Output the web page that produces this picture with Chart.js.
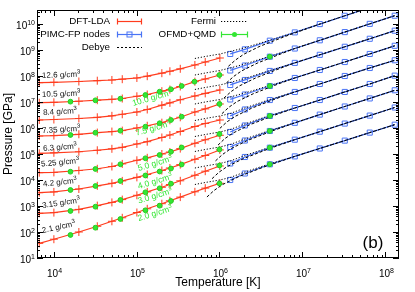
<!DOCTYPE html>
<html>
<head>
<meta charset="utf-8">
<script src="https://cdn.jsdelivr.net/npm/chart.js@4.4.0/dist/chart.umd.min.js"></script>
<style>
  html, body { margin: 0; padding: 0; background: #fff; }
</style>
</head>
<body>
<canvas id="myChart" width="415" height="292"></canvas>
<script>
// densities of the DFT / PIMC rows, top to bottom
const densities = ["12.6", "10.5", "8.4", "7.35", "6.3", "5.25", "4.2", "3.15", "2.1"];

// DFT-LDA
const dftT = [6736, 10104, 20209, 33682, 50523, 67364, 101045, 134727, 202091, 252613, 336818, 505227, 673636, 1010454];
const dftP = [
  [5.52e7, 5.73e7, 6.14e7, 6.59e7, 7.02e7, 7.53e7, 8.38e7, 9.82e7, 1.28e8, 1.52e8, 1.89e8, 2.65e8, 3.45e8, 4.92e8],
  [9.40e6, 9.73e6, 1.07e7, 1.17e7, 1.27e7, 1.36e7, 1.66e7, 1.94e7, 2.60e7, 3.00e7, 3.94e7, 6.04e7, 7.67e7, 1.09e8],
  [2.03e6, 2.12e6, 2.32e6, 2.58e6, 2.94e6, 3.37e6, 4.12e6, 5.15e6, 7.53e6, 9.23e6, 1.22e7, 1.70e7, 2.14e7, 2.90e7],
  [4.92e5, 5.11e5, 5.73e5, 6.65e5, 7.28e5, 7.94e5, 1.0e6, 1.22e6, 1.60e6, 1.98e6, 2.58e6, 4.12e6, 5.43e6, 8.38e6],
  [1.06e5, 1.11e5, 1.22e5, 1.39e5, 1.58e5, 1.81e5, 2.43e5, 2.97e5, 4.32e5, 5.38e5, 7.33e5, 1.14e6, 1.49e6, 2.03e6],
  [1.91e4, 1.96e4, 2.32e4, 2.70e4, 3.30e4, 4.16e4, 5.73e4, 7.14e4, 1.0e5, 1.19e5, 1.61e5, 2.58e5, 3.52e5, 5.24e5],
  [3.25e3, 3.48e3, 4.51e3, 5.98e3, 7.46e3, 9.23e3, 1.26e4, 1.63e4, 2.32e4, 2.90e4, 3.91e4, 6.25e4, 8.75e4, 1.43e5],
  [524, 557, 740, 1035, 1374, 1762, 2582, 3483, 5236, 6714, 9311, 1.52e4, 2.18e4, 3.45e4],
  [36.7, 52.8, 100, 166, 258, 352, 562, 780, 1225, 1585, 2198, 3516, 4875, 7464]
];

// PIMC-FP nodes
const pimcT = [1347271, 2020906, 4041813, 8083626, 16167252, 32334505, 64669010, 129338020];
const pimcP = [
  [7.02e8, 1.06e9, 2.28e9, 4.75e9, 9.91e9, 2.07e10, 4.31e10, 8.91e10],
  [1.63e8, 2.53e8, 5.52e8, 1.14e9, 2.36e9, 4.88e9, 1.01e10, 2.08e10],
  [4.51e7, 7.02e7, 1.56e8, 3.19e8, 6.53e8, 1.33e9, 2.70e9, 5.52e9],
  [1.25e7, 1.94e7, 4.12e7, 8.38e7, 1.70e8, 3.45e8, 7.02e8, 1.45e9],
  [2.90e6, 5.15e6, 1.19e7, 2.43e7, 4.92e7, 1.0e8, 2.03e8, 4.02e8],
  [7.02e5, 1.25e6, 2.90e6, 5.87e6, 1.19e7, 2.43e7, 4.92e7, 1.03e8],
  [1.86e5, 3.30e5, 7.67e5, 1.58e6, 3.27e6, 6.71e6, 1.37e7, 2.82e7],
  [4.32e4, 7.67e4, 1.75e5, 3.55e5, 7.21e5, 1.48e6, 3.0e6, 6.14e6],
  [1.0e4, 1.78e4, 4.02e4, 8.09e4, 1.63e5, 3.27e5, 6.65e5, 1.34e6]
];

// Fermi
const fermiT = [505227, 673636, 1010454, 1347271, 2020906, 4041813, 8083626, 16167252, 32334505, 64669010, 129338020];
const fermiP = [
  [4.71e8, 5.62e8, 7.02e8, 8.75e8, 1.22e9, 2.38e9, 4.75e9, 9.91e9, 2.07e10, 4.31e10, 8.91e10],
  [1.09e8, 1.30e8, 1.63e8, 2.03e8, 2.89e8, 5.77e8, 1.14e9, 2.36e9, 4.88e9, 1.01e10, 2.08e10],
  [3.03e7, 3.61e7, 4.51e7, 5.62e7, 8.02e7, 1.63e8, 3.19e8, 6.53e8, 1.33e9, 2.70e9, 5.52e9],
  [8.38e6, 1.0e7, 1.25e7, 1.56e7, 2.22e7, 4.31e7, 8.38e7, 1.70e8, 3.45e8, 7.02e8, 1.45e9],
  [1.94e6, 2.32e6, 2.90e6, 3.61e6, 5.87e6, 1.25e7, 2.43e7, 4.92e7, 1.0e8, 2.03e8, 4.02e8],
  [4.71e5, 5.62e5, 7.02e5, 8.75e5, 1.43e6, 3.03e6, 5.87e6, 1.19e7, 2.43e7, 4.92e7, 1.03e8],
  [1.25e5, 1.49e5, 1.86e5, 2.32e5, 3.78e5, 8.02e5, 1.58e6, 3.27e6, 6.71e6, 1.37e7, 2.82e7],
  [2.89e4, 3.45e4, 4.32e4, 5.38e4, 8.75e4, 1.82e5, 3.55e5, 7.21e5, 1.48e6, 3.0e6, 6.14e6],
  [6.71e3, 8.02e3, 1.0e4, 1.25e4, 2.03e4, 4.20e4, 8.09e4, 1.63e5, 3.27e5, 6.65e5, 1.34e6]
];

// Debye
const debyeT = [
  [1.28e6, 1.56e6, 1.95e6, 3.08e6, 6.07e6, 1.62e7, 3.23e7, 6.47e7, 1.29e8],
  [1.21e6, 1.48e6, 1.84e6, 2.91e6, 5.74e6, 8.08e6, 1.62e7, 3.23e7, 6.47e7, 1.29e8],
  [1.13e6, 1.38e6, 1.72e6, 2.72e6, 5.36e6, 8.08e6, 1.62e7, 3.23e7, 6.47e7, 1.29e8],
  [1.07e6, 1.30e6, 1.62e6, 2.57e6, 5.07e6, 8.08e6, 1.62e7, 3.23e7, 6.47e7, 1.29e8],
  [1.01e6, 1.23e6, 1.54e6, 2.43e6, 4.80e6, 8.08e6, 1.62e7, 3.23e7, 6.47e7, 1.29e8],
  [9.6e5, 1.16e6, 1.46e6, 2.30e6, 4.54e6, 8.08e6, 1.62e7, 3.23e7, 6.47e7, 1.29e8],
  [8.95e5, 1.09e6, 1.36e6, 2.14e6, 4.24e6, 8.08e6, 1.62e7, 3.23e7, 6.47e7, 1.29e8],
  [8.13e5, 9.87e5, 1.23e6, 1.95e6, 3.84e6, 8.08e6, 1.62e7, 3.23e7, 6.47e7, 1.29e8],
  [7.06e5, 8.59e5, 1.07e6, 1.69e6, 3.34e6, 8.08e6, 1.62e7, 3.23e7, 6.47e7, 1.29e8]
];
const debyeP = [
  [2.36e8, 4.12e8, 6.78e8, 1.40e9, 3.25e9, 9.91e9, 2.07e10, 4.31e10, 8.91e10],
  [5.38e7, 9.57e7, 1.56e8, 3.22e8, 7.46e8, 1.14e9, 2.36e9, 4.88e9, 1.01e10, 2.08e10],
  [1.41e7, 2.51e7, 4.09e7, 8.38e7, 1.96e8, 3.19e8, 6.53e8, 1.33e9, 2.70e9, 5.52e9],
  [3.55e6, 6.31e6, 1.03e7, 2.1e7, 4.88e7, 8.38e7, 1.70e8, 3.45e8, 7.02e8, 1.45e9],
  [9.66e5, 1.72e6, 2.79e6, 5.73e6, 1.34e7, 2.43e7, 4.92e7, 1.0e8, 2.03e8, 4.02e8],
  [2.2e5, 3.91e5, 6.42e5, 1.32e6, 3.05e6, 5.87e6, 1.19e7, 2.43e7, 4.92e7, 1.03e8],
  [5.43e4, 9.66e4, 1.57e5, 3.25e5, 7.53e5, 1.58e6, 3.27e6, 6.71e6, 1.37e7, 2.82e7],
  [1.12e4, 2.0e4, 3.25e4, 6.65e4, 1.54e5, 3.55e5, 7.21e5, 1.48e6, 3.0e6, 6.14e6],
  [2.22e3, 3.94e3, 6.49e3, 1.33e4, 3.08e4, 8.09e4, 1.63e5, 3.27e5, 6.65e5, 1.34e6]
];

// OFMD+QMD
const ofmdDensities = ["10.0", "7.5", "5.0", "4.0", "3.0", "2.0"];
const ofmdT = [16000, 32000, 64000, 128000, 190000, 260000, 350000, 500000, 1000000, 4040000];
const ofmdP = [
  [1.03e7, 1.16e7, 1.34e7, 1.86e7, 2.49e7, 3.08e7, 4.12e7, 6.04e7, 1.09e8, 5.52e8],
  [5.38e5, 6.59e5, 7.87e5, 1.12e6, 1.52e6, 2.03e6, 2.72e6, null, 8.38e6, 4.12e7],
  [2.08e4, 2.65e4, 4.02e4, 6.84e4, 9.15e4, 1.22e5, 1.78e5, null, 5.87e5, 2.90e6],
  [4.12e3, 5.87e3, 9.15e3, 1.49e4, 2.12e4, 2.77e4, 3.94e4, null, 1.49e5, 7.67e5],
  [643, 940, 1702, 3365, 4797, 7211, null, null, 3.61e4, 1.75e5],
  [76.7, 146, 316, 684, 1028, 1556, null, null, 7328, 4.02e4]
];

const xTicks = [1e4, 1e5, 1e6, 1e7, 1e8];
const yTicks = [1e1, 1e2, 1e3, 1e4, 1e5, 1e6, 1e7, 1e8, 1e9, 1e10];

const RED = "#ff3c1e";
const BLUE = "#4a74f5";
const GREEN = "#33e633";
const FONT = "'Liberation Sans', Arial, sans-serif";

// label placement (x, middle y, angle)
const densLabelPos = [[42, 75, -2], [42, 94, -2], [43, 112, -3], [42, 130, -3], [43, 148, -4], [41, 163.5, -5], [43, 183.5, -6], [42, 205, -8], [42, 230, -12]];
const ofmdLabelPos = [[152, 97.5, -16], [153, 128, -16], [155, 163, -17], [155, 181, -17], [155, 195.5, -17], [155, 213, -17]];

function pts(ts, ps) {
  const out = [];
  for (let i = 0; i < ts.length; i++) {
    if (ps[i] !== null) out.push({ x: ts[i], y: ps[i] });
  }
  return out;
}

const datasets = [];
densities.forEach(function (d, i) {
  datasets.push({
    label: "DFT " + d, data: pts(dftT, dftP[i]), order: 6,
    borderColor: RED, borderWidth: 1.2, pointStyle: "cross", pointRadius: 4,
    pointBorderColor: RED, pointBorderWidth: 1
  });
  datasets.push({
    label: "PIMC " + d, data: pts(pimcT, pimcP[i]), order: 5,
    borderColor: BLUE, borderWidth: 1.3, pointStyle: "rect", pointRadius: 3.6,
    pointBorderColor: BLUE, pointBackgroundColor: "rgba(0,0,0,0)", pointBorderWidth: 1
  });
  datasets.push({
    label: "Fermi " + d, data: pts(fermiT, fermiP[i]), order: 3,
    borderColor: "#000", borderWidth: 1, borderDash: [1.2, 1.8], pointRadius: 0
  });
  datasets.push({
    label: "Debye " + d, data: pts(debyeT[i], debyeP[i]), order: 4,
    borderColor: "#000", borderWidth: 1, borderDash: [3, 2], pointRadius: 0
  });
});
ofmdDensities.forEach(function (d, i) {
  datasets.push({
    label: "OFMD " + d, data: pts(ofmdT, ofmdP[i]), order: 1, showLine: false,
    pointStyle: "circle", pointRadius: 2.4, pointBackgroundColor: GREEN, pointBorderColor: "#20d020", pointBorderWidth: 1
  });
});

function supText(ctx, base, exp, x, y, align, baseSize, expSize, color) {
  ctx.fillStyle = color || "#000";
  ctx.textBaseline = "alphabetic";
  ctx.textAlign = "left";
  ctx.font = baseSize + "px " + FONT;
  const wb = ctx.measureText(base).width;
  ctx.font = expSize + "px " + FONT;
  const we = ctx.measureText(exp).width;
  let x0 = x;
  if (align === "right") x0 = x - wb - we;
  if (align === "center") x0 = x - (wb + we) / 2;
  ctx.font = baseSize + "px " + FONT;
  ctx.fillText(base, x0, y);
  ctx.font = expSize + "px " + FONT;
  ctx.fillText(exp, x0 + wb, y - baseSize * 0.42);
}

const decor = {
  id: "decor",
  afterDraw(chart) {
    const ctx = chart.ctx;
    const a = chart.chartArea;
    const xs = chart.scales.x, ys = chart.scales.y;
    ctx.save();
    ctx.strokeStyle = "#000";
    ctx.lineWidth = 1;
    ctx.strokeRect(a.left + 0.5, a.top + 0.5, a.right - a.left - 1, a.bottom - a.top - 1);

    // ticks (inward, mirrored)
    ctx.beginPath();
    for (let e = 3; e <= 8; e++) {
      for (let m = 1; m <= 9; m++) {
        const v = m * Math.pow(10, e);
        if (v < xs.min || v > xs.max) continue;
        const px = Math.round(xs.getPixelForValue(v)) + 0.5;
        const len = m === 1 ? 6 : 3;
        ctx.moveTo(px, a.bottom); ctx.lineTo(px, a.bottom - len);
        ctx.moveTo(px, a.top); ctx.lineTo(px, a.top + len);
      }
    }
    for (let e = 1; e <= 10; e++) {
      for (let m = 1; m <= 9; m++) {
        const v = m * Math.pow(10, e);
        if (v < ys.min || v > ys.max) continue;
        const py = Math.round(ys.getPixelForValue(v)) + 0.5;
        const len = m === 1 ? 6 : 3;
        ctx.moveTo(a.left, py); ctx.lineTo(a.left + len, py);
        ctx.moveTo(a.right, py); ctx.lineTo(a.right - len, py);
      }
    }
    ctx.stroke();

    // tick labels
    xTicks.forEach(function (v) {
      const px = xs.getPixelForValue(v);
      supText(ctx, "10", String(Math.round(Math.log10(v))), px + 1, 277, "center", 10, 7);
    });
    yTicks.forEach(function (v) {
      const py = ys.getPixelForValue(v);
      supText(ctx, "10", String(Math.round(Math.log10(v))), 35, py + 5, "right", 10, 7);
    });

    // axis titles
    ctx.fillStyle = "#000";
    ctx.font = "12px " + FONT;
    ctx.textAlign = "center";
    ctx.textBaseline = "middle";
    ctx.fillText("Temperature [K]", 218, 283);
    ctx.save();
    ctx.translate(9, 134);
    ctx.rotate(-Math.PI / 2);
    ctx.fillText("Pressure [GPa]", 0, 0);
    ctx.restore();

    // panel mark
    ctx.font = "17px " + FONT;
    ctx.fillText("(b)", 373, 243);

    // density labels
    densities.forEach(function (d, i) {
      const p = densLabelPos[i];
      ctx.save();
      ctx.translate(p[0], p[1]);
      ctx.rotate(p[2] * Math.PI / 180);
      supText(ctx, d + " g/cm", "3", 0, 3, "left", 8, 6, "#111");
      ctx.restore();
    });
    ofmdDensities.forEach(function (d, i) {
      const p = ofmdLabelPos[i];
      ctx.save();
      ctx.translate(p[0], p[1]);
      ctx.rotate(p[2] * Math.PI / 180);
      supText(ctx, d + " g/cm", "3", 0, 3, "center", 8.5, 6, GREEN);
      ctx.restore();
    });

    // legend
    ctx.font = "9.8px " + FONT;
    ctx.textAlign = "right";
    ctx.textBaseline = "middle";
    ctx.fillStyle = "#000";
    const col1 = 110, s1a = 117, s1b = 142;
    const col2 = 216, s2a = 221, s2b = 248;
    ctx.fillText("DFT-LDA", col1, 21);
    ctx.fillText("PIMC-FP nodes", col1, 34);
    ctx.fillText("Debye", col1, 47);
    ctx.fillText("Fermi", col2, 21);
    ctx.fillText("OFMD+QMD", col2, 34);

    function sample(xa, xb, y, color, dash, caps) {
      ctx.save();
      ctx.strokeStyle = color;
      ctx.lineWidth = 1.2;
      ctx.setLineDash(dash || []);
      ctx.beginPath();
      ctx.moveTo(xa, y); ctx.lineTo(xb, y);
      ctx.stroke();
      ctx.setLineDash([]);
      if (caps) {
        ctx.beginPath();
        ctx.moveTo(xa + 0.5, y - 3); ctx.lineTo(xa + 0.5, y + 3);
        ctx.moveTo(xb - 0.5, y - 3); ctx.lineTo(xb - 0.5, y + 3);
        ctx.stroke();
      }
      ctx.restore();
    }
    sample(s1a, s1b, 21.5, RED, null, true);
    sample(s1a, s1b, 34.5, BLUE, null, true);
    ctx.strokeStyle = BLUE; ctx.lineWidth = 1; ctx.strokeRect(127, 32, 5, 5);
    sample(s1a, s1b, 47.5, "#000", [2, 2], false);
    sample(s2a, s2b, 21.5, "#000", [1.2, 1.8], false);
    sample(s2a, s2b, 34.5, GREEN, null, true);
    ctx.fillStyle = GREEN;
    ctx.beginPath(); ctx.arc(234.5, 34.5, 2.5, 0, 2 * Math.PI); ctx.fill();
    ctx.restore();
  }
};

new Chart(document.getElementById("myChart"), {
  type: "line",
  data: { datasets: datasets },
  options: {
    responsive: false,
    animation: false,
    devicePixelRatio: 1,
    layout: { padding: { left: 37, right: 16, top: 10, bottom: 34 } },
    plugins: { legend: { display: false }, tooltip: { enabled: false } },
    scales: {
      x: { type: "logarithmic", min: 6324, max: 1.456e8, display: false },
      y: { type: "logarithmic", min: 10, max: 3.45e10, display: false }
    }
  },
  plugins: [decor]
});
</script>
</body>
</html>
